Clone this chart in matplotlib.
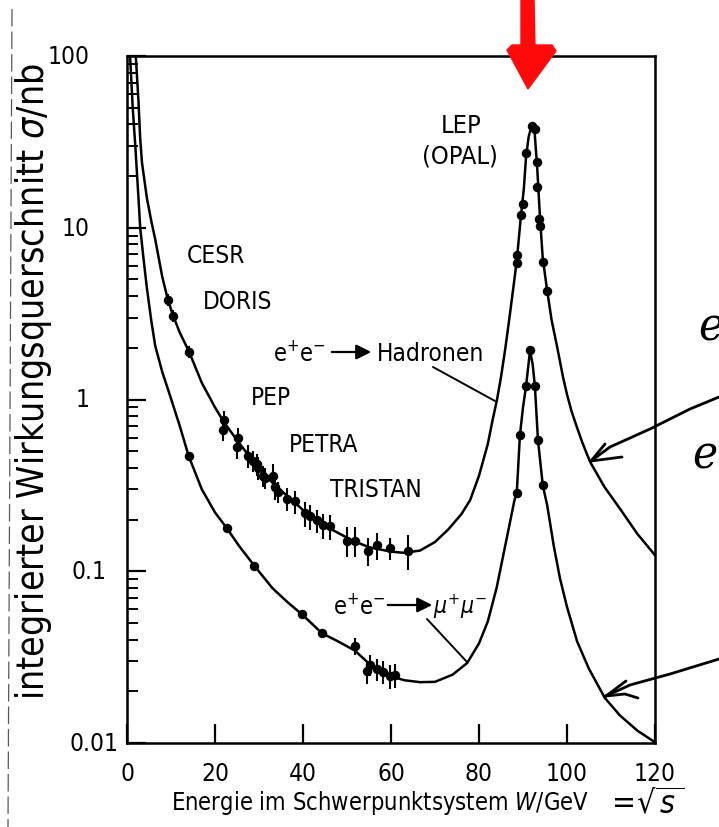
import matplotlib
matplotlib.use('Agg')
import matplotlib.pyplot as plt
from matplotlib.patches import Polygon, FancyArrowPatch
from matplotlib.lines import Line2D
from matplotlib.font_manager import findfont, FontProperties
from matplotlib.ticker import FixedLocator, NullFormatter, LogLocator

plt.rcParams['font.family'] = ['DejaVu Sans']
plt.rcParams['font.stretch'] = 'condensed'
plt.rcParams['mathtext.fontset'] = 'dejavusans'

# condensed DejaVu is ~10% narrower; scale sizes up if it is there
cond = 'Condensed' in findfont(FontProperties(family='DejaVu Sans', stretch='condensed'))
k = 1.1 if cond else 1.0

# theory curves (W in GeV, sigma in nb)
had_W = [2.0, 2.6, 3.0, 3.4, 4.5, 5.5, 6.4, 8.0, 9.3, 10.5, 12.0, 14.1, 17.0, 20.0, 22.0,
         25.0, 28.0, 31.0, 34.0, 37.5, 41.0, 46.0, 51.0, 55.0, 60.0, 63.0, 66.6, 70.0,
         73.0, 76.0, 78.0, 80.0, 82.0, 83.0, 84.1, 85.0, 86.0, 87.0, 88.0, 88.6, 89.5,
         90.2, 90.7, 91.3, 92.0, 92.6, 93.2, 93.9, 94.5, 95.5, 96.5, 97.7, 99.1, 100.0,
         101.0, 102.0, 103.5, 105.2, 108.5, 112.0, 116.0, 120.0]
had_sig = [100, 55, 33, 24, 15, 11, 8.6, 5.2, 3.8, 3.07, 2.45, 1.9, 1.25, 0.9, 0.74,
           0.58, 0.46, 0.37, 0.31, 0.26, 0.215, 0.178, 0.152, 0.138, 0.13, 0.128, 0.132,
           0.148, 0.175, 0.215, 0.26, 0.36, 0.55, 0.74, 1.0, 1.35, 2.0, 3.1, 4.9, 6.5,
           11.5, 17, 26, 34, 39.5, 37, 23, 11, 6.6, 4.3, 2.9, 2.06, 1.35, 1.07, 0.86,
           0.72, 0.56, 0.436, 0.31, 0.232, 0.165, 0.124]

mu_W = [0.7, 1.3, 1.9, 2.6, 3.0, 3.7, 4.5, 5.5, 6.4, 8.0, 9.8, 12.0, 14.0, 17.0, 20.0,
        22.7, 25.5, 28.9, 33.0, 36.5, 39.8, 44.3, 48.0, 51.8, 55.0, 60.0, 63.0, 66.6,
        70.0, 74.0, 77.3, 80.0, 82.0, 84.0, 86.4, 88.0, 88.6, 89.3, 90.0, 90.7, 91.6,
        92.2, 92.7, 93.4, 94.5, 95.5, 97.0, 98.4, 100.0, 102.3, 105.0, 108.6, 112.0,
        116.0, 120.0]
mu_sig = [100, 50, 29.6, 15, 10, 6.8, 4.5, 2.9, 2.06, 1.45, 1.05, 0.7, 0.47, 0.3, 0.22,
          0.178, 0.14, 0.108, 0.08, 0.066, 0.056, 0.0436, 0.039, 0.0345, 0.029, 0.0245,
          0.0232, 0.0226, 0.0227, 0.025, 0.0292, 0.038, 0.051, 0.08, 0.16, 0.255, 0.29,
          0.62, 0.9, 1.2, 1.93, 1.6, 1.2, 0.58, 0.316, 0.242, 0.14, 0.091, 0.062, 0.039,
          0.027, 0.0183, 0.0145, 0.0118, 0.0101]

# measured points
had_pts_W = [9.3, 10.5, 14.1, 22.0, 21.9, 25.2, 25.0, 27.5, 28.7, 29.5, 29.8, 30.9, 31.4,
             33.2, 33.6, 34.3, 36.4, 38.2, 40.5, 41.6, 43.2, 44.5, 46.1, 50.0, 51.8, 54.8,
             56.8, 59.8, 63.9]
had_pts_sig = [3.8, 3.07, 1.9, 0.755, 0.66, 0.60, 0.53, 0.47, 0.44, 0.42, 0.40, 0.36, 0.35,
               0.36, 0.31, 0.29, 0.265, 0.255, 0.217, 0.209, 0.198, 0.185, 0.183, 0.151,
               0.151, 0.132, 0.142, 0.136, 0.132]
had_pts_err = [0.3, 0.25, 0.15, 0.1, 0.09, 0.08, 0.08, 0.07, 0.06, 0.06, 0.06, 0.05, 0.05,
               0.06, 0.05, 0.04, 0.04, 0.04, 0.035, 0.035, 0.03, 0.03, 0.03, 0.03, 0.03,
               0.025, 0.025, 0.02, 0.03]

lep_had_W = [88.6, 88.6, 89.5, 90.0, 90.7, 92.0, 92.7, 93.2, 93.2, 93.6, 93.9, 94.5, 95.5]
lep_had_sig = [6.2, 6.9, 11.9, 13.8, 27.3, 39.2, 37.7, 24.2, 17.3, 11.3, 10.3, 6.3, 4.3]

mu_pts_W = [14.1, 22.7, 28.9, 39.8, 44.3, 51.8, 54.5, 55.2, 56.8, 58.2, 59.8, 60.9]
mu_pts_sig = [0.47, 0.178, 0.108, 0.056, 0.0436, 0.0366, 0.0262, 0.0284, 0.027, 0.026,
              0.0245, 0.025]
mu_pts_err = [0, 0, 0, 0, 0, 0.004, 0.004, 0.004, 0.004, 0.004, 0.004, 0.004]

lep_mu_W = [88.6, 89.3, 90.7, 91.6, 92.7, 93.4, 94.5]
lep_mu_sig = [0.284, 0.618, 1.2, 1.93, 1.2, 0.578, 0.316]

y_ticks = [100, 10, 1, 0.1, 0.01]
y_labels = ['100', '10', '1', '0.1', '0.01']
y_label_right = [-0.070, -0.070, -0.070, -0.038, -0.017]   # irregular typesetting
x_ticks = [0, 20, 40, 60, 80, 100, 120]

W_PX, H_PX = 719, 828
fig = plt.figure(figsize=(W_PX / 100, H_PX / 100), dpi=100)


def P(x, y):
    return (x / W_PX, 1 - y / H_PX)


ax = fig.add_axes([127 / W_PX, 1 - 744 / H_PX, 528 / W_PX, 687 / H_PX])
ax.set_yscale('log')
ax.set_xlim(0, 120)
ax.set_ylim(0.01, 100)

ax.plot(had_W, had_sig, color='black', lw=1.8)
ax.plot(mu_W, mu_sig, color='black', lw=1.8)

ax.errorbar(had_pts_W, had_pts_sig, yerr=had_pts_err, fmt='o', color='black', ms=5.8,
            elinewidth=1.5, capsize=0)
ax.plot(lep_had_W, lep_had_sig, 'o', color='black', ms=5.8)
ax.errorbar(mu_pts_W, mu_pts_sig, yerr=mu_pts_err, fmt='o', color='black', ms=5.8,
            elinewidth=1.5, capsize=0)
ax.plot(lep_mu_W, lep_mu_sig, 'o', color='black', ms=5.8)

for s in ax.spines.values():
    s.set_linewidth(1.8)

ax.set_xticks(x_ticks)
ax.set_xticklabels([str(v) for v in x_ticks])
ax.yaxis.set_major_locator(FixedLocator(y_ticks))
ax.yaxis.set_major_formatter(NullFormatter())
ax.yaxis.set_minor_locator(LogLocator(base=10, subs=range(2, 10)))
ax.yaxis.set_minor_formatter(NullFormatter())
ax.tick_params(axis='both', which='major', direction='in', length=14, width=1.6,
               labelsize=16 * k, top=False, right=False)
ax.tick_params(axis='x', which='major', pad=13)
ax.tick_params(axis='y', which='minor', direction='in', length=8, width=1.4, right=False)
ax.tick_params(axis='x', which='minor', bottom=False)

for v, lab, xr in zip(y_ticks, y_labels, y_label_right):
    ax.text(xr, v, lab, transform=ax.get_yaxis_transform(), ha='right', va='center',
            fontsize=16 * k)

ax.set_xlabel('Energie im Schwerpunktsystem $W$/GeV', fontsize=15.5 * k)
ax.xaxis.set_label_coords(0.479, -0.066)
ax.set_ylabel('integrierter Wirkungsquerschnitt $\\sigma$/nb', fontsize=24.5 * k)
ax.yaxis.set_label_coords(-0.139, 0.527)

# accelerator names
fs = 16 * k
fig.text(*P(461, 126), 'LEP', fontsize=16.5 * k, ha='center', va='center')
fig.text(*P(460, 157), '(OPAL)', fontsize=16.5 * k, ha='center', va='center')
fig.text(*P(187, 256), 'CESR', fontsize=fs, ha='left', va='center')
fig.text(*P(203, 302), 'DORIS', fontsize=fs, ha='left', va='center')
fig.text(*P(251, 398), 'PEP', fontsize=fs, ha='left', va='center')
fig.text(*P(289, 445), 'PETRA', fontsize=fs, ha='left', va='center')
fig.text(*P(330, 490), 'TRISTAN', fontsize=fs, ha='left', va='center')

# reaction labels
fig.text(*P(273, 354), 'e$^{+}$e$^{-}$', fontsize=15.5 * k, ha='left', va='center')
fig.text(*P(377, 354), 'Hadronen', fontsize=fs, ha='left', va='center')
fig.text(*P(333, 606), 'e$^{+}$e$^{-}$', fontsize=15.5 * k, ha='left', va='center')
fig.text(*P(433, 607), '$\\mu^{+}\\mu^{-}$', fontsize=15 * k, ha='left', va='center')
for (x0, x1, y) in [(329, 374, 353), (385, 435, 606)]:
    fig.add_artist(FancyArrowPatch(
        P(x0, y), P(x1, y), transform=fig.transFigure,
        arrowstyle='-|>,head_length=6,head_width=3', mutation_scale=1.5,
        color='black', lw=1.6))


def hline(pts, lw=2.0, color='black', **kw):
    xs = [P(*p)[0] for p in pts]
    ys = [P(*p)[1] for p in pts]
    fig.add_artist(Line2D(xs, ys, transform=fig.transFigure, color=color, lw=lw,
                          solid_capstyle='round', **kw))


hline([(433, 368), (495, 402)], lw=1.4)
hline([(427, 620), (467, 663)], lw=1.4)

# red marker arrow at the Z peak
red = '#ff0a0a'
fig.add_artist(Polygon([P(521, 0), P(534, 0), P(535, 48), P(521, 48)], closed=True,
                       transform=fig.transFigure, color=red))
fig.add_artist(Polygon([P(507, 51), P(512, 46), P(552, 46), P(556, 52), P(528, 90)],
                       closed=True, transform=fig.transFigure, color=red))

# handwritten notes
hline([(719, 398), (690, 410), (650, 430), (610, 448), (591, 462)])
hline([(591, 462), (605, 445)])
hline([(591, 462), (622, 458)])
hline([(719, 660), (670, 675), (630, 686), (606, 697)])
hline([(606, 697), (626, 682)])
hline([(606, 697), (625, 695), (638, 699)])
fig.text(*P(698, 328), 'e', fontsize=34, family='DejaVu Serif', style='italic',
         ha='left', va='center')
fig.text(*P(692, 456), 'e', fontsize=34, family='DejaVu Serif', style='italic',
         ha='left', va='center')
fig.text(*P(606, 805), '$=\\!\\sqrt{s\\,}$', fontsize=23, ha='left', va='center')

# scan edge
hline([(12, 10), (8, 828)], lw=0.9, color='0.35', linestyle=(0, (14, 4)))

fig.savefig('out.png', dpi=100)
